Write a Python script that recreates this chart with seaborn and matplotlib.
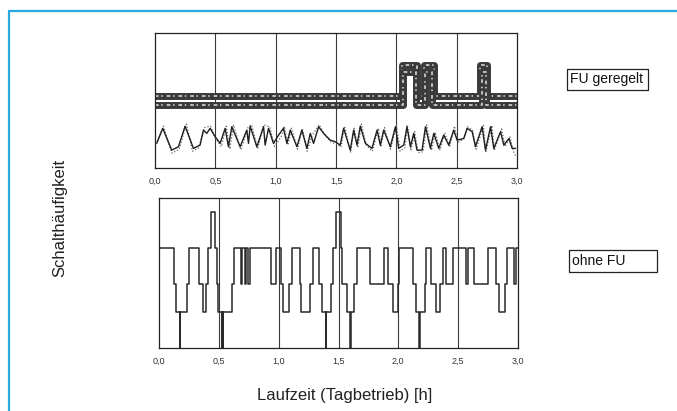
import numpy as np
import pandas as pd
import matplotlib
matplotlib.use("Agg")
import matplotlib.pyplot as plt
from matplotlib.patches import Rectangle
from matplotlib.lines import Line2D
import seaborn as sns

# x axis (hours)
x_ticks = [0.0, 0.5, 1.0, 1.5, 2.0, 2.5, 3.0]
x_ticklabels = ["0,0", "0,5", "1,0", "1,5", "2,0", "2,5", "3,0"]

# --- top panel "FU geregelt": switching band (step) ---
band_upper_t = [0.0, 2.045, 2.17, 2.225, 2.31, 2.695, 2.75, 3.0]
band_upper_v = [53.5, 76.0, 53.5, 76.0, 53.5, 76.0, 53.5, 53.5]
band_lower_t = [0.0, 2.058, 2.158, 2.238, 2.298, 2.707, 2.738, 3.0]
band_lower_v = [46.8, 71.0, 46.8, 71.0, 46.8, 71.0, 46.8, 46.8]

# --- top panel: oscillating curve (solid) ---
osc_t = [0.014, 0.064, 0.138, 0.194, 0.249, 0.318, 0.373, 0.401, 0.429, 0.456,
         0.498, 0.539, 0.581, 0.608, 0.636, 0.705, 0.760, 0.774, 0.788, 0.843,
         0.899, 0.912, 0.940, 0.981, 1.023, 1.064, 1.092, 1.120, 1.175, 1.216,
         1.258, 1.286, 1.313, 1.355, 1.396, 1.451, 1.493, 1.534, 1.562, 1.617,
         1.645, 1.673, 1.700, 1.742, 1.797, 1.839, 1.866, 1.894, 1.949, 1.991,
         2.018, 2.060, 2.087, 2.115, 2.143, 2.170, 2.212, 2.240, 2.281, 2.309,
         2.350, 2.391, 2.433, 2.474, 2.502, 2.557, 2.585, 2.627, 2.654, 2.709,
         2.737, 2.779, 2.806, 2.862, 2.889, 2.931, 2.958, 2.986]
osc_v = [18.3, 29.4, 13.3, 15.8, 31.0, 14.6, 17.0, 28.1, 25.7, 29.4,
         23.2, 18.3, 29.4, 15.8, 30.6, 15.8, 28.1, 18.3, 31.0, 15.8,
         30.6, 17.0, 29.4, 18.3, 24.4, 29.4, 18.3, 28.1, 15.8, 28.1,
         14.6, 25.7, 18.3, 30.6, 25.7, 20.7, 19.5, 17.0, 29.4, 13.3,
         28.1, 17.0, 31.0, 18.3, 14.6, 28.1, 17.0, 28.1, 15.8, 30.6,
         14.6, 17.0, 30.6, 15.8, 25.7, 13.3, 13.3, 30.6, 14.6, 25.7,
         14.6, 24.4, 17.0, 28.1, 20.7, 21.9, 29.4, 26.9, 15.8, 30.6,
         13.3, 30.6, 14.6, 26.9, 17.0, 21.9, 14.6, 14.6]

# --- top panel: second curve (dotted) ---
dot_t = [0.02, 0.07, 0.10, 0.14, 0.20, 0.26, 0.31, 0.36, 0.41, 0.46,
         0.50, 0.55, 0.59, 0.62, 0.65, 0.71, 0.77, 0.80, 0.85, 0.90,
         0.95, 0.99, 1.05, 1.07, 1.10, 1.13, 1.18, 1.22, 1.26, 1.30,
         1.36, 1.41, 1.46, 1.50, 1.54, 1.57, 1.62, 1.65, 1.68, 1.71,
         1.75, 1.80, 1.85, 1.87, 1.90, 1.95, 2.00, 2.03, 2.07, 2.09,
         2.12, 2.15, 2.18, 2.22, 2.25, 2.29, 2.32, 2.36, 2.40, 2.44,
         2.48, 2.51, 2.56, 2.59, 2.63, 2.66, 2.72, 2.74, 2.79, 2.81,
         2.87, 2.90, 2.94, 2.97, 2.99]
dot_v = [20, 31, 22, 11, 14, 32.5, 12.5, 15, 30, 31,
         22, 16, 31, 14, 32, 13.5, 30, 32, 14, 32,
         30.5, 16, 24, 31, 17, 29.5, 14, 29, 12.5, 24,
         32, 24, 19, 18, 15.5, 31, 11.5, 29.5, 15, 32.5,
         17, 12.5, 29.5, 15.5, 30, 14, 31.5, 12.5, 15, 32,
         13, 27, 11.5, 12, 32, 13, 26.5, 13.5, 26, 15.5,
         31, 19, 22, 30.5, 28, 14, 31.5, 11.5, 31.5, 13,
         29, 16, 23, 12, 8]

# --- bottom panel "ohne FU": switching stage (0=off ... 4=top) ---
stage_values = [0, 36, 64, 100, 136]
step_t = [0.000, 0.123, 0.145, 0.172, 0.175, 0.234, 0.251, 0.334, 0.365, 0.396,
          0.409, 0.438, 0.471, 0.480, 0.490, 0.525, 0.528, 0.535, 0.538, 0.610,
          0.627, 0.683, 0.693, 0.716, 0.730, 0.745, 0.758, 0.933, 0.981, 1.017,
          1.036, 1.083, 1.114, 1.175, 1.190, 1.265, 1.287, 1.334, 1.360, 1.393,
          1.396, 1.440, 1.457, 1.481, 1.518, 1.528, 1.571, 1.599, 1.602, 1.627,
          1.654, 1.760, 1.880, 1.913, 1.955, 1.997, 2.010, 2.122, 2.145, 2.175,
          2.178, 2.220, 2.234, 2.276, 2.312, 2.345, 2.370, 2.401, 2.456, 2.568,
          2.581, 2.632, 2.749, 2.819, 2.846, 2.894, 2.911, 2.966, 2.984, 3.000]
step_stage = [3, 2, 1, 0, 1, 2, 3, 2, 1, 2,
              3, 4, 3, 2, 1, 0, 1, 0, 1, 2,
              3, 2, 3, 2, 3, 2, 3, 2, 3, 2,
              1, 2, 3, 2, 1, 2, 3, 2, 1, 0,
              1, 2, 3, 4, 3, 2, 1, 0, 1, 2,
              3, 2, 3, 2, 1, 2, 3, 2, 1, 0,
              1, 2, 3, 2, 1, 2, 3, 2, 3, 2,
              3, 2, 3, 2, 1, 2, 3, 2, 3, 3]

sns.set_style("white")
plt.rcParams["font.family"] = ["Liberation Sans", "DejaVu Sans"]

fig = plt.figure(figsize=(6.77, 4.11), dpi=100)
ax1 = fig.add_axes([0.229, 0.591, 0.535, 0.329])
ax2 = fig.add_axes([0.235, 0.153, 0.530, 0.365])

# top panel
band_u = pd.DataFrame({"t": band_upper_t, "v": band_upper_v})
band_l = pd.DataFrame({"t": band_lower_t, "v": band_lower_v})
for df in (band_u, band_l):
    sns.lineplot(data=df, x="t", y="v", ax=ax1, drawstyle="steps-post",
                 estimator=None, sort=False, color="#3a3a3a", lw=5.0)
    sns.lineplot(data=df, x="t", y="v", ax=ax1, drawstyle="steps-post",
                 estimator=None, sort=False, color="#c8c8c8", lw=1.3,
                 linestyle=(0, (2, 1.5, 0.8, 2.2)))
sns.lineplot(x=dot_t, y=dot_v, ax=ax1, estimator=None, sort=False,
             color="#666666", lw=0.9, linestyle=(0, (1, 1.5)))
sns.lineplot(x=osc_t, y=osc_v, ax=ax1, estimator=None, sort=False,
             color="#1e1e1e", lw=1.0)
ax1.set_ylim(0, 100)

# bottom panel
step_v = [stage_values[s] for s in step_stage]
sns.lineplot(x=step_t, y=step_v, ax=ax2, drawstyle="steps-post",
             estimator=None, sort=False, color="#2a2a2a", lw=1.1)
ax2.set_ylim(0, 150)

for ax in (ax1, ax2):
    ax.set_xlim(0, 3)
    for xv in x_ticks[1:-1]:
        ax.axvline(xv, color="#3a3a3a", lw=0.8, zorder=0)
    ax.set_xticks(x_ticks)
    ax.set_xticklabels(x_ticklabels, fontsize=6.5, color="#333333")
    ax.set_yticks([])
    ax.set_xlabel("")
    ax.set_ylabel("")
    ax.tick_params(axis="x", length=0, pad=6)
    for sp in ax.spines.values():
        sp.set_visible(True)
        sp.set_color("#222222")
        sp.set_linewidth(0.9)

# labels
fig.text(60 / 677, 1 - 218 / 411, "Schalthäufigkeit", rotation=90,
         ha="center", va="center", fontsize=12, color="#222222")
fig.text(345 / 677, 1 - 395 / 411, "Laufzeit (Tagbetrieb) [h]",
         ha="center", va="center", fontsize=12, color="#222222")

# series boxes
boxes = [("FU geregelt", 567, 69, 81, 21), ("ohne FU", 569, 250, 88, 22)]
for label, bx, by, bw, bh in boxes:
    fig.patches.append(Rectangle((bx / 677, 1 - (by + bh) / 411), bw / 677, bh / 411,
                                 transform=fig.transFigure, fc="white",
                                 ec="#222222", lw=0.9))
    fig.text((bx + 3) / 677, 1 - (by + bh / 2) / 411, label, ha="left",
             va="center", fontsize=10, color="#111111")

# blue frame
fig.lines.append(Line2D([9 / 677, 1.0], [1 - 11 / 411, 1 - 11 / 411],
                        transform=fig.transFigure, color="#2aa9e0", lw=1.6))
fig.lines.append(Line2D([9 / 677, 9 / 677], [0, 1 - 11 / 411],
                        transform=fig.transFigure, color="#2aa9e0", lw=1.6))

fig.savefig("out.png", dpi=100)
